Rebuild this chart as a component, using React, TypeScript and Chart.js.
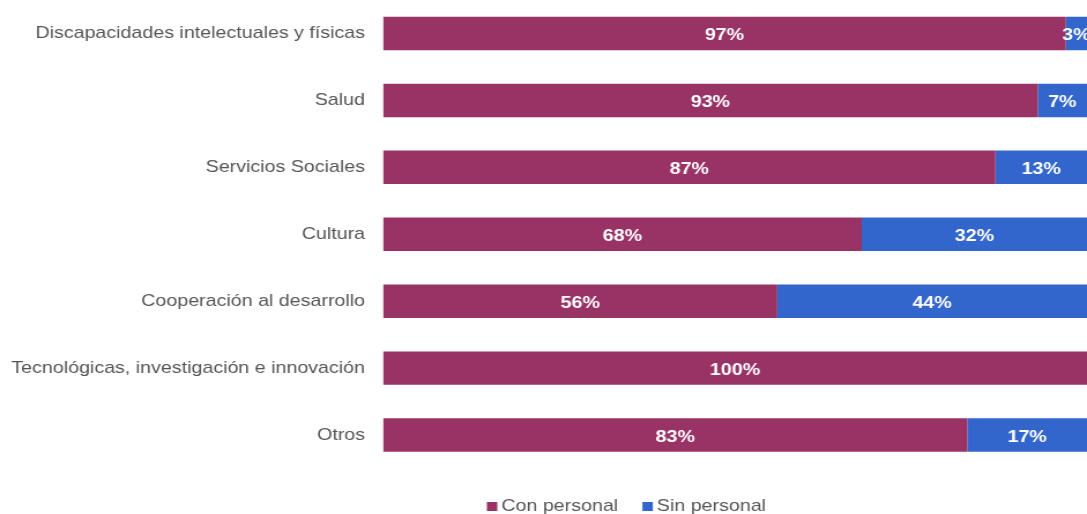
import React, { useEffect, useRef } from "react";
import { Chart, registerables } from "chart.js";

Chart.register(...registerables);

const categories = [
  "Discapacidades intelectuales y físicas",
  "Salud",
  "Servicios Sociales",
  "Cultura",
  "Cooperación al desarrollo",
  "Tecnológicas, investigación e innovación",
  "Otros",
];
const conPersonal = [97, 93, 87, 68, 56, 100, 83];
const sinPersonal = [3, 7, 13, 32, 44, 0, 17];
const seriesNames = ["Con personal", "Sin personal"];
const colors = ["#993366", "#3366CC"];

const FONT = "'Liberation Sans', Arial, sans-serif";
const STRETCH = 1.155; // reference is horizontally stretched
const VIEW_W = 1087;
const VIEW_H = 514;
const CANVAS_W = Math.round(VIEW_W / STRETCH);

const valueLabels = {
  id: "valueLabels",
  afterDatasetsDraw(chart: any) {
    const ctx = chart.ctx;
    ctx.save();
    ctx.font = `bold 17px ${FONT}`;
    ctx.fillStyle = "#ffffff";
    ctx.textAlign = "center";
    ctx.textBaseline = "middle";
    chart.data.datasets.forEach((ds: any, di: number) => {
      const meta = chart.getDatasetMeta(di);
      meta.data.forEach((bar: any, i: number) => {
        const v = ds.data[i];
        if (!v) return;
        const { x, base, y } = bar.getProps(["x", "base", "y"], true);
        ctx.fillText(`${v}%`, (x + base) / 2, y + 2);
      });
    });
    ctx.restore();
  },
};

const customLegend = {
  id: "customLegend",
  afterDraw(chart: any) {
    const ctx = chart.ctx;
    ctx.save();
    ctx.font = `17px ${FONT}`;
    ctx.textBaseline = "alphabetic";
    ctx.textAlign = "left";
    let x = 421.5;
    const baseY = 511;
    chart.data.datasets.forEach((ds: any) => {
      ctx.fillStyle = ds.backgroundColor;
      ctx.fillRect(x, 502, 9, 9);
      x += 12.5;
      ctx.fillStyle = "#555555";
      ctx.fillText(ds.label, x, baseY);
      x += ctx.measureText(ds.label).width + 21;
    });
    ctx.restore();
  },
};

export default function App() {
  const ref = useRef<HTMLCanvasElement>(null);
  useEffect(() => {
    document.body.style.margin = "0";
    document.body.style.overflow = "hidden";
    const chart = new Chart(ref.current!, {
      type: "bar",
      data: {
        labels: categories,
        datasets: [
          { label: seriesNames[0], data: conPersonal, backgroundColor: colors[0] },
          { label: seriesNames[1], data: sinPersonal, backgroundColor: colors[1] },
        ],
      },
      options: {
        indexAxis: "y",
        animation: false,
        responsive: false,
        devicePixelRatio: 1,
        layout: { padding: { top: -2, right: 0, left: 0, bottom: 45.5 } },
        datasets: { bar: { barPercentage: 0.5, categoryPercentage: 1 } },
        scales: {
          x: { stacked: true, min: 0, max: 100, display: false },
          y: {
            stacked: true,
            grid: { display: false, drawTicks: false },
            border: { display: false },
            ticks: { color: "#555555", font: { family: FONT, size: 17 }, padding: 15.6 },
            afterFit(scale: any) {
              scale.width = 383 / STRETCH;
              scale.paddingTop = 0;
              scale.paddingBottom = 0;
            },
          },
        },
        plugins: {
          tooltip: { enabled: false },
          legend: { display: false },
        },
      },
      plugins: [valueLabels, customLegend],
    });
    return () => chart.destroy();
  }, []);
  return (
    <div style={{ position: "fixed", left: 0, top: 0, width: VIEW_W, height: VIEW_H, overflow: "hidden" }}>
      <canvas
        ref={ref}
        width={CANVAS_W}
        height={VIEW_H}
        style={{ display: "block", width: VIEW_W + "px", height: VIEW_H + "px" }}
      />
    </div>
  );
}
